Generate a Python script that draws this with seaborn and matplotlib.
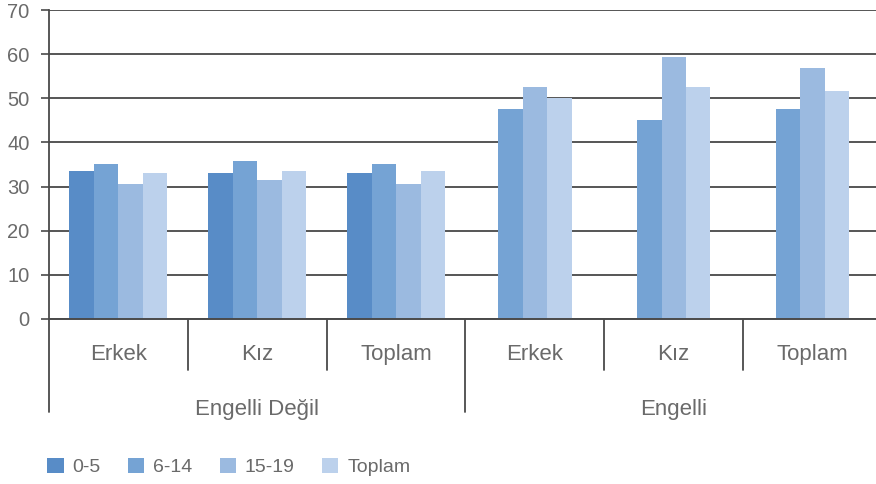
import numpy as np
import pandas as pd
import matplotlib
matplotlib.use("Agg")
import matplotlib.pyplot as plt
import matplotlib.transforms as mtransforms
import seaborn as sns

# Veriler

groups = ["Engelli Değil", "Engelli"]
categories = ["Erkek", "Kız", "Toplam"]
ages = ["0-5", "6-14", "15-19", "Toplam"]

age_0_5 = [33.5, 33.1, 33.1, np.nan, np.nan, np.nan]
age_6_14 = [35.1, 35.8, 35.1, 47.6, 45.0, 47.6]
age_15_19 = [30.6, 31.5, 30.6, 52.6, 59.4, 56.9]
age_toplam = [33.1, 33.5, 33.5, 50.0, 52.6, 51.6]

colors = ["#588CC7", "#75A3D4", "#9BBAE0", "#BCD1EC"]

# Tablo
keys = [g + "|" + c for g in groups for c in categories]
rows = []
for age, vals in zip(ages, [age_0_5, age_6_14, age_15_19, age_toplam]):
    for gi, g in enumerate(groups):
        for ci, c in enumerate(categories):
            rows.append({"key": g + "|" + c, "group": g, "age": age,
                         "value": vals[gi * len(categories) + ci]})
df = pd.DataFrame(rows).dropna()

sns.set_style("white")
plt.rcParams["font.family"] = ["Liberation Sans", "DejaVu Sans"]

W, H = 876, 484
fig = plt.figure(figsize=(W / 100, H / 100), dpi=100)
ax = fig.add_axes([49 / W, (H - 319) / H, (882 - 49) / W, (319 - 10) / H])

# Her grup kendi yaş dilimleriyle çizilir (eksik dilim olan grupta çubuklar ortalanır)
bar_w = 0.705
for gi, g in enumerate(groups):
    sub = df[df["group"] == g]
    present = [a for a in ages if a in set(sub["age"])]
    pal = [colors[ages.index(a)] for a in present]
    sns.barplot(data=sub, x="key", y="value", hue="age", order=keys, hue_order=present,
                palette=pal, saturation=1, width=bar_w * len(present) / len(ages),
                linewidth=0, ax=ax, errorbar=None, legend=(gi == 0))

line_col = "#4a4a4a"
text_col = "#6a6a6a"

ax.set_ylim(0, 70)
ax.set_xlim(-0.5, 5.5)
ax.set_yticks(range(0, 71, 10))
ax.yaxis.grid(True, color="#555555", linewidth=1.4)
ax.set_axisbelow(True)
ax.tick_params(axis="y", length=6, width=1.2, color=line_col, pad=8,
               labelsize=14.5, labelcolor=text_col, left=True)
ax.set_xticks(range(len(keys)))
ax.set_xticklabels(categories * len(groups))
ax.tick_params(axis="x", length=0, pad=18, labelsize=16, labelcolor=text_col)
ax.set_xlabel("")
ax.set_ylabel("")

for s in ["top", "right"]:
    ax.spines[s].set_visible(False)
ax.spines["left"].set_color(line_col)
ax.spines["left"].set_linewidth(1.3)
ax.spines["bottom"].set_color(line_col)
ax.spines["bottom"].set_linewidth(1.4)

# Ayırıcı çizgiler ve grup etiketleri
trans = mtransforms.blended_transform_factory(ax.transData, ax.transAxes)
n = len(categories)
for gi, g in enumerate(groups):
    left = gi * n - 0.5
    ax.plot([left, left], [0, -0.30], color=line_col, lw=1.3, transform=trans, clip_on=False)
    for ci in range(1, n):
        x = left + ci
        ax.plot([x, x], [0, -0.165], color=line_col, lw=1.3, transform=trans, clip_on=False)
    ax.text(left + n / 2, -0.311, g, transform=trans, ha="center", va="baseline",
            fontsize=16, color=text_col)
ax.plot([len(keys) - 0.5] * 2, [0, -0.30], color=line_col, lw=1.3, transform=trans, clip_on=False)

# Lejant
handles, labels = ax.get_legend_handles_labels()
leg_h = {l: h for h, l in zip(handles, labels)}
ax.get_legend().remove()
fig.legend([leg_h[a] for a in ages], ages, loc="center left",
           bbox_to_anchor=(47 / W, 1 - 467 / H),
           ncol=4, frameon=False, borderaxespad=0, borderpad=0,
           handlelength=0.85, handleheight=0.8, handletextpad=0.45,
           columnspacing=1.4, prop={"size": 14})
for t in fig.legends[0].get_texts():
    t.set_color(text_col)

fig.savefig("out.png", dpi=100)
